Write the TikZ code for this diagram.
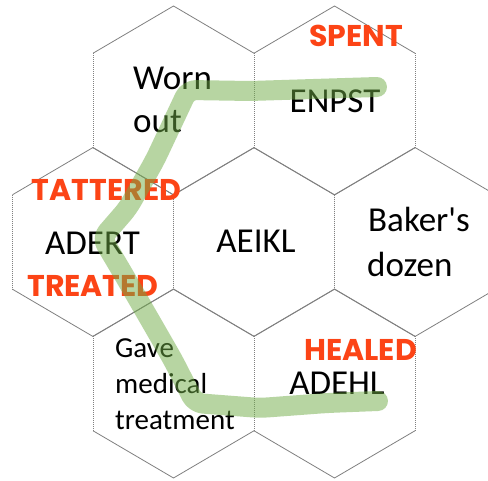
\documentclass[tikz,border=0pt]{standalone}
\usepackage{fontspec}
\setmainfont{Carlito}[Ligatures=TeXOff]
\newfontfamily\labelfont{Poppins}
\definecolor{edgegray}{RGB}{128,128,128}
\definecolor{labelred}{RGB}{252,68,22}
\definecolor{pathgreen}{RGB}{112,173,71}
\tikzset{
  slantedge/.style={draw=edgegray, line width=0.8pt},
  sideedge/.style={draw=edgegray, line width=0.8pt, dash pattern=on 1pt off 1pt},
  bigtext/.style={inner sep=0pt, font=\fontsize{35}{43}\selectfont, text=black},
  smalltext/.style={inner sep=0pt, font=\fontsize{29}{36}\selectfont, text=black},
  redlabel/.style={inner sep=0pt, font=\labelfont\bfseries\fontsize{30}{36}\selectfont, text=labelred},
  highlighter/.style={draw=pathgreen, opacity=0.5, line width=20pt, line cap=round, line join=round, rounded corners=8pt}
}
\begin{document}
\begin{tikzpicture}[x=1pt,y=-1pt]
\useasboundingbox (0,0) rectangle (488,481);
\fill[white] (0,0) rectangle (488,481);
\clip (0,0) rectangle (488,481);
% hexagons
\foreach \cx/\cy in {173.5/100.5, 334.5/100.5, 93/242, 254/242, 415/242, 173.5/383.5, 334.5/383.5}{
  \draw[slantedge] (\cx-80.5,\cy-47.25) -- (\cx,\cy-94.5) -- (\cx+80.5,\cy-47.25);
  \draw[slantedge] (\cx-80.5,\cy+47.25) -- (\cx,\cy+94.5) -- (\cx+80.5,\cy+47.25);
  \draw[sideedge] (\cx-80.5,\cy-47.25) -- (\cx-80.5,\cy+47.25);
  \draw[sideedge] (\cx+80.5,\cy-47.25) -- (\cx+80.5,\cy+47.25);
}
% texts
\node[bigtext, anchor=base west] (worn) at (133,90) {Worn};
\node[bigtext, anchor=base west] (out) at (133,133) {out};
\node[bigtext, anchor=base] (enpst) at (335,113) {ENPST};
\node[bigtext, anchor=base] (adert) at (92.5,255) {ADERT};
\node[bigtext, anchor=base] (aeikl) at (256,253) {AEIKL};
\node[bigtext, anchor=base west] (bakers) at (368,232) {Baker's};
\node[bigtext, anchor=base west] (dozen) at (367,277) {dozen};
\node[smalltext, anchor=base west] (gave) at (115,358) {Gave};
\node[smalltext, anchor=base west] (medical) at (115,394) {medical};
\node[smalltext, anchor=base west] (treatment) at (115,430) {treatment};
\node[bigtext, anchor=base] (adehl) at (337,395) {ADEHL};
% red labels
\node[redlabel, anchor=base] (spent) at (356,47) {SPENT};
\node[redlabel, anchor=base] (tattered) at (106.5,201) {TATTERED};
\node[redlabel, anchor=base] (treated) at (93,297) {TREATED};
\node[redlabel, anchor=base] (healed) at (360.5,361) {HEALED};
% highlighter path
\coordinate (pstart) at (377,87);
\coordinate (pend) at (378,401);
\draw[highlighter] (pstart) -- (250,91) -- (188,90) -- (155,160) -- (128,208) -- (102,238) -- (121,270) -- (150,320) -- (173,360) -- (195,403) -- (260,408) -- (327,403) -- (pend);
\end{tikzpicture}
\end{document}
